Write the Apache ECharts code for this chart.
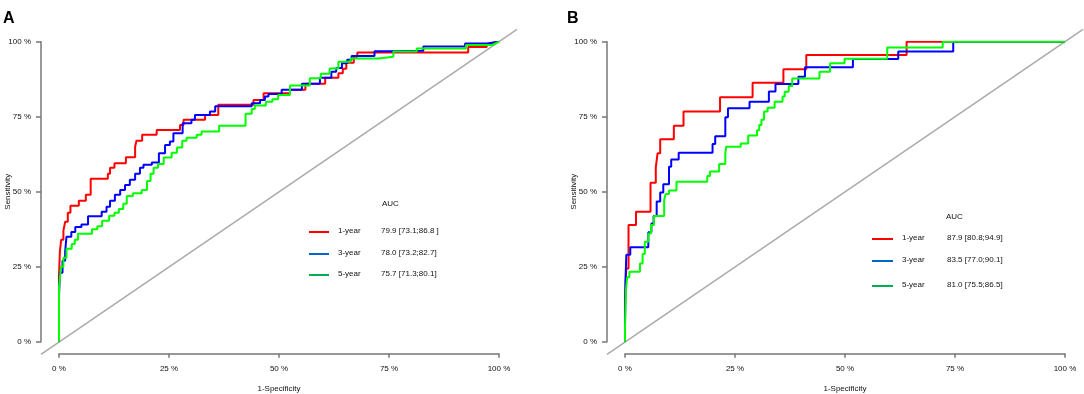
<!DOCTYPE html>
<html>
<head>
<meta charset="utf-8">
<title>ROC curves</title>
<script src="https://cdn.jsdelivr.net/npm/echarts@6/dist/echarts.min.js"></script>
<style>
    html, body {margin: 0; padding: 0; background: #fff;}
    #roc_chart {width: 1084px; height: 394px;}
</style>
</head>
<body>
<div id="roc_chart"></div>
<script>
// ROC 曲线数据 [1-特异度 %, 灵敏度 %]
var rocA1 = [[0,0],[0,22],[0.2,22],[0.2,30],[0.5,30],[0.5,34],[1,34],[1,37],[1.4,37],[1.4,40],[2,40],[2,43],[2.6,43],[2.6,45.3],[4.5,45.3],[4.5,47],[6.1,47],[6.1,49],[7.2,49],[7.2,54.3],[11.1,54.3],[11.1,56],[11.6,56],[11.6,58],[12.6,58],[12.6,59.5],[15.2,59.5],[15.2,61.5],[17.3,61.5],[17.3,65],[17.6,65],[17.6,67],[18.9,67],[18.9,69],[22.2,69],[22.2,70.6],[27.5,70.6],[27.5,72.2],[28.3,72.2],[28.3,74],[33.2,74],[33.2,75.6],[36.2,75.6],[36.2,79],[44.2,79],[44.2,80.6],[46.5,80.6],[46.5,82.8],[52.5,82.8],[52.5,84],[56,84],[56,86],[60.5,86],[60.5,88],[63.5,88],[63.5,89.5],[64.5,89.5],[64.5,91],[65.3,91],[65.3,93],[67,93],[67,95],[67.8,95],[67.8,96.4],[93,96.4],[93,98.2],[97.2,98.2],[97.2,99],[99.5,100],[100,100]];
var rocA3 = [[0,0],[0,15],[0.2,15],[0.2,23],[0.8,23],[0.8,27],[1.4,27],[1.4,30],[1.7,30],[1.7,35],[2.8,35],[2.8,36.6],[3.7,36.6],[3.7,38.2],[5.1,38.2],[5.1,39.1],[6.6,39.1],[6.6,41.8],[9.7,41.8],[9.7,43.3],[10.8,43.3],[10.8,45],[11.6,45],[11.6,47],[12.7,47],[12.7,49],[13.9,49],[13.9,50.6],[15,50.6],[15,52.2],[16.1,52.2],[16.1,54],[17.3,54],[17.3,56],[18.4,56],[18.4,58],[19.2,58],[19.2,59],[21.1,59],[21.1,59.7],[22.7,59.7],[22.7,62.8],[24.1,62.8],[24.1,65.6],[25.2,65.6],[25.2,66.7],[26,66.7],[26,69.5],[28.1,69.5],[28.1,72.8],[30.1,72.8],[30.1,74],[30.9,74],[30.9,75.6],[34.3,75.6],[34.3,76.7],[35.5,76.7],[35.5,78.5],[43.8,78.5],[43.8,79.5],[45.7,79.5],[45.7,80.6],[46.8,80.6],[46.8,81.7],[47.6,81.7],[47.6,82.6],[50.6,82.6],[50.6,84],[55.2,84],[55.2,86],[59.3,86],[59.3,88],[61.9,88],[61.9,90],[63,90],[63,91.2],[64.3,91.2],[64.3,92.8],[65.5,92.8],[65.5,94],[66.5,94],[66.5,95.2],[71.7,95.2],[71.7,96.8],[74.8,96.8],[74.8,97],[82.8,97],[82.8,98.4],[92.3,98.4],[92.3,99.4],[97.2,99.4],[97.2,100],[100,100]];
var rocA5 = [[0,0],[0,18],[0.45,18],[0.45,25],[1,25],[1,28],[1.7,28],[1.7,31],[2.9,31],[2.9,32.6],[3.6,32.6],[3.6,34],[4.3,34],[4.3,36],[7.5,36],[7.5,37.5],[8.7,37.5],[8.7,38.5],[9.8,38.5],[9.8,40.3],[11.4,40.3],[11.4,42],[12.6,42],[12.6,43],[13.6,43],[13.6,44.2],[14.6,44.2],[14.6,46],[15.4,46],[15.4,48.6],[16.8,48.6],[16.8,49.5],[18.8,49.5],[18.8,50.6],[20,50.6],[20,53.6],[20.8,53.6],[20.8,56],[21.5,56],[21.5,58],[22.5,58],[22.5,59.2],[23.8,59.2],[23.8,61.4],[25.6,61.4],[25.6,63],[26.8,63],[26.8,64.7],[28,64.7],[28,67],[29,67],[29,68],[31.3,68],[31.3,69],[32.4,69],[32.4,70.1],[36.4,70.1],[36.4,72],[42.4,72],[42.4,76],[43.8,76],[43.8,77.6],[44.5,77.6],[44.5,78.7],[47,78.7],[47,80],[48.5,80],[48.5,80.8],[49.8,80.8],[49.8,82.2],[52.5,82.2],[52.5,85.4],[57,85.4],[57,87.8],[59.5,87.8],[59.5,89.3],[61.5,89.3],[61.5,91.1],[63.5,91.1],[63.5,93.3],[66.3,93.3],[66.3,94.4],[72.6,94.4],[72.6,95],[76,95],[76,96.7],[81.3,96.7],[81.3,97.7],[92.5,97.7],[92.5,98.9],[98.5,98.9],[98.5,99.5],[100,100]];

var rocB1 = [[0,0],[0,14],[0.3,14],[0.3,24.4],[0.8,24.4],[0.8,38.9],[2.5,38.9],[2.5,43.3],[5.8,43.3],[5.8,53],[7,53],[7,58.1],[7.4,58.1],[7.4,62.8],[8,62.8],[8,67.5],[11.1,67.5],[11.1,72],[13.3,72],[13.3,76.7],[21.6,76.7],[21.6,81.5],[29,81.5],[29,86.3],[36,86.3],[36,90.8],[41.2,90.8],[41.2,95.6],[64,95.6],[64,100],[100,100]];
var rocB3 = [[0,0],[0,5],[0.1,5],[0.1,20],[0.3,20],[0.3,29],[1.2,29],[1.2,31.5],[5.3,31.5],[5.3,36.5],[6,36.5],[6,39.4],[6.5,39.4],[6.5,41.9],[7.2,41.9],[7.2,46.7],[8,46.7],[8,49.7],[8.7,49.7],[8.7,52.5],[10,52.5],[10,58.3],[10.5,58.3],[10.5,60.7],[12.2,60.7],[12.2,63],[19.9,63],[19.9,65.9],[20.5,65.9],[20.5,68.5],[22.8,68.5],[22.8,74.8],[23.4,74.8],[23.4,77.8],[28.3,77.8],[28.3,80],[32.7,80],[32.7,83.4],[34.2,83.4],[34.2,85.9],[39.4,85.9],[39.4,88.3],[40.9,88.3],[40.9,91.5],[51.8,91.5],[51.8,94.2],[62.1,94.2],[62.1,96.7],[74.6,96.7],[74.6,100],[100,100]];
var rocB5 = [[0,0],[0,4.4],[0.2,4.4],[0.2,17],[0.5,17],[0.5,21.5],[1,21.5],[1,23.3],[3.4,23.3],[3.4,26.1],[4,26.1],[4,29.2],[4.5,29.2],[4.5,33.3],[5.3,33.3],[5.3,36.1],[5.9,36.1],[5.9,38.9],[6.6,38.9],[6.6,41.9],[8.9,41.9],[8.9,47.2],[9.2,47.2],[9.2,49.2],[10,49.2],[10,50.4],[11.7,50.4],[11.7,53.3],[18.7,53.3],[18.7,55.2],[19.3,55.2],[19.3,56.7],[21.4,56.7],[21.4,59.2],[22.8,59.2],[22.8,62.8],[23,62.8],[23,65],[26.3,65],[26.3,66.1],[28,66.1],[28,68.7],[30,68.7],[30,70.5],[30.5,70.5],[30.5,72.2],[31,72.2],[31,74],[31.6,74],[31.6,76.7],[32.4,76.7],[32.4,78],[34,78],[34,80],[35.8,80],[35.8,81.7],[36.3,81.7],[36.3,83.3],[37.2,83.3],[37.2,85.2],[38,85.2],[38,87.7],[44.2,87.7],[44.2,90],[46.6,90],[46.6,92.8],[49.9,92.8],[49.9,94.3],[59.6,94.3],[59.6,98.1],[72.2,98.1],[72.2,100],[100,100]];

// 参考对角线，画满整个绘图区（R 默认 4% 留白）
var plotRange = [-4.1, 104.1];
var diagonal = [[-4.1, -4.1], [104.1, 104.1]];

var panelLabels = ['A', 'B'];
var yearLabels = ['1-year', '3-year', '5-year'];
var aucTextA = ['79.9 [73.1;86.8 ]', '78.0 [73.2;82.7]', '75.7 [71.3;80.1]'];
var aucTextB = ['87.9 [80.8;94.9]', '83.5 [77.0;90.1]', '81.0 [75.5;86.5]'];

var curveColors = ['#ff0000', '#0000ff', '#00ff00'];
var legendColors = ['#ff0000', '#0066cc', '#00b050'];
var FONT = '"Liberation Sans", Arial, sans-serif';

/**
 * 坐标轴配置
 */
function makeXAxis(gridIndex) {
    return {
        type: 'value', gridIndex: gridIndex, min: 0, max: 100, interval: 25,
        offset: 12,
        name: '1-Specificity', nameLocation: 'middle', nameGap: 31, nameMoveOverlap: false,
        nameTextStyle: {fontSize: 8, color: '#111', fontFamily: FONT},
        axisLine: {show: true, onZero: false, lineStyle: {color: '#777', width: 1.5}},
        axisTick: {show: true, length: 4, lineStyle: {color: '#777', width: 1.5}},
        axisLabel: {formatter: '{value} %', fontSize: 8, color: '#111', margin: 11, fontFamily: FONT},
        splitLine: {show: false}
    };
}

function makeYAxis(gridIndex) {
    return {
        type: 'value', gridIndex: gridIndex, min: 0, max: 100, interval: 25,
        offset: 18,
        name: 'Sensitivity', nameLocation: 'middle', nameGap: 29, nameMoveOverlap: false,
        nameTextStyle: {fontSize: 8, color: '#111', fontFamily: FONT},
        axisLine: {show: true, onZero: false, lineStyle: {color: '#777', width: 1.5}},
        axisTick: {show: true, length: 5, lineStyle: {color: '#777', width: 1.5}},
        axisLabel: {formatter: '{value} %', fontSize: 8, color: '#111', margin: 10, fontFamily: FONT},
        splitLine: {show: false}
    };
}

// 不显示的坐标轴，用于整个绘图区（对角线）
function makeHiddenAxis(gridIndex) {
    return {type: 'value', gridIndex: gridIndex, min: plotRange[0], max: plotRange[1], show: false};
}

function makeLine(name, data, color, gridIndex, width, z) {
    return {
        name: name, type: 'line', data: data,
        xAxisIndex: gridIndex, yAxisIndex: gridIndex,
        showSymbol: false, symbol: 'none', z: z,
        lineStyle: {color: color, width: width},
        itemStyle: {color: color},
        silent: true, animation: false
    };
}

/**
 * AUC 图例（表格式）
 */
function legendGraphics(x, headerY, rowYs, values) {
    var items = [{
        type: 'text', left: x.header, top: headerY - 5,
        style: {text: 'AUC', font: '8px ' + FONT, fill: '#111'}
    }];
    for (var i = 0; i < yearLabels.length; i++) {
        items.push({
            type: 'line',
            shape: {x1: x.line0, y1: rowYs[i], x2: x.line1, y2: rowYs[i]},
            style: {stroke: legendColors[i], lineWidth: 2}
        });
        items.push({
            type: 'text', left: x.label, top: rowYs[i] - 5,
            style: {text: yearLabels[i], font: '8px ' + FONT, fill: '#111'}
        });
        items.push({
            type: 'text', left: x.value, top: rowYs[i] - 5,
            style: {text: values[i], font: '8px ' + FONT, fill: '#111'}
        });
    }
    return items;
}

var myChart = echarts.init(document.getElementById('roc_chart'));
var panels = [[rocA1, rocA3, rocA5], [rocB1, rocB3, rocB5]];
var series = [];
for (var p = 0; p < panels.length; p++) {
    // 对角线放在 grid 2/3（整个绘图区）
    series.push(makeLine('diag', diagonal, '#aaaaaa', p + 2, 1.5, 1));
    for (var k = 0; k < panels[p].length; k++) {
        series.push(makeLine(yearLabels[k], panels[p][k], curveColors[k], p, 2, 2 + k));
    }
}

var option = {
    backgroundColor: '#fff',
    animation: false,
    title: [
        {text: panelLabels[0], left: 3, top: 11, padding: 0, textStyle: {fontSize: 16, fontWeight: 'bold', color: '#000', fontFamily: FONT}},
        {text: panelLabels[1], left: 567, top: 11, padding: 0, textStyle: {fontSize: 16, fontWeight: 'bold', color: '#000', fontFamily: FONT}}
    ],
    grid: [
        {left: 59, top: 41.7, width: 440, height: 300, outerBoundsMode: 'none'},
        {left: 625, top: 41.7, width: 440, height: 300, outerBoundsMode: 'none'},
        {left: 41, top: 29.3, width: 476, height: 325, outerBoundsMode: 'none'},
        {left: 607, top: 29.3, width: 476, height: 325, outerBoundsMode: 'none'}
    ],
    xAxis: [makeXAxis(0), makeXAxis(1), makeHiddenAxis(2), makeHiddenAxis(3)],
    yAxis: [makeYAxis(0), makeYAxis(1), makeHiddenAxis(2), makeHiddenAxis(3)],
    series: series,
    graphic: legendGraphics({header: 382, line0: 309, line1: 329, label: 338, value: 381}, 205, [232, 254, 275], aucTextA)
        .concat(legendGraphics({header: 946, line0: 872, line1: 893, label: 902, value: 947}, 218, [239, 261, 286], aucTextB))
};
if (option && typeof option === "object") {
    myChart.setOption(option, true);
}
</script>
</body>
</html>
